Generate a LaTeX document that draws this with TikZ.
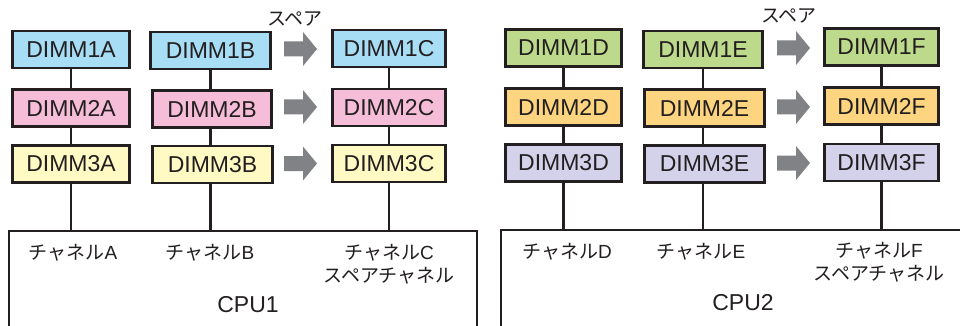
\documentclass[tikz,border=0pt]{standalone}
\usepackage{fontspec}
\setmainfont{Liberation Sans}
\newfontfamily\jpfont{Noto Sans CJK JP}
\definecolor{linec}{HTML}{231F20}
\definecolor{cblue}{HTML}{A8DDF6}
\definecolor{cpink}{HTML}{F6BDD8}
\definecolor{cyellow}{HTML}{FFF9C4}
\definecolor{cgreen}{HTML}{BDDA8C}
\definecolor{corange}{HTML}{FDD580}
\definecolor{clav}{HTML}{D4D2EA}
\definecolor{arrowgray}{HTML}{808285}
\begin{document}
\begin{tikzpicture}[x=1pt,y=-1pt,
  dimm/.style={draw=linec, line width=2.6pt, inner sep=0pt, minimum height=37pt,
    font=\fontsize{23}{27}\selectfont, text=linec},
  cpubox/.style={draw=linec, line width=2.6pt, inner sep=0pt},
  conn/.style={draw=linec, line width=2.8pt},
  chlabel/.style={font=\fontsize{19}{23}\selectfont, text=linec, align=center, inner sep=0pt},
  cpulabel/.style={font=\fontsize{23}{27}\selectfont, text=linec, inner sep=0pt},
  sparelabel/.style={font=\jpfont\fontsize{19}{22}\selectfont, text=linec, inner sep=0pt}]
\useasboundingbox (0,0) rectangle (960,326);
\clip (0,0) rectangle (960,326);
\fill[white] (0,0) rectangle (960,326);

% CPU boxes
\node[cpubox, minimum width=468pt, minimum height=110pt] (cpu1) at (243,286) {};
\node[cpubox, minimum width=479pt, minimum height=110pt] (cpu2) at (740.5,285) {};

% CPU1 DIMMs
\node[dimm, fill=cblue,   minimum width=117pt] (d1a) at (71,49.5) {DIMM1A};
\node[dimm, fill=cpink,   minimum width=117pt] (d2a) at (71,108) {DIMM2A};
\node[dimm, fill=cyellow, minimum width=117pt] (d3a) at (71,164) {DIMM3A};
\node[dimm, fill=cblue,   minimum width=120pt] (d1b) at (210.5,50.5) {DIMM1B};
\node[dimm, fill=cpink,   minimum width=119pt] (d2b) at (212,109) {DIMM2B};
\node[dimm, fill=cyellow, minimum width=120pt] (d3b) at (212.5,164.5) {DIMM3B};
\node[dimm, fill=cblue,   minimum width=113pt] (d1c) at (389,48.5) {DIMM1C};
\node[dimm, fill=cpink,   minimum width=113pt] (d2c) at (389,107.5) {DIMM2C};
\node[dimm, fill=cyellow, minimum width=113pt] (d3c) at (389,163.5) {DIMM3C};

% CPU2 DIMMs
\node[dimm, fill=cgreen,  minimum width=116pt] (d1d) at (563.5,48) {DIMM1D};
\node[dimm, fill=corange, minimum width=116pt] (d2d) at (563.5,107) {DIMM2D};
\node[dimm, fill=clav,    minimum width=116pt] (d3d) at (563.5,163) {DIMM3D};
\node[dimm, fill=cgreen,  minimum width=119pt] (d1e) at (703,49.5) {DIMM1E};
\node[dimm, fill=corange, minimum width=120pt] (d2e) at (704.5,108) {DIMM2E};
\node[dimm, fill=clav,    minimum width=120pt] (d3e) at (704.5,164) {DIMM3E};
\node[dimm, fill=cgreen,  minimum width=114pt] (d1f) at (881.5,47) {DIMM1F};
\node[dimm, fill=corange, minimum width=114pt] (d2f) at (881.5,106) {DIMM2F};
\node[dimm, fill=clav,    minimum width=114pt] (d3f) at (881.5,162.5) {DIMM3F};

% connectors
\foreach \c/\cpu in {a/cpu1,b/cpu1,c/cpu1,d/cpu2,e/cpu2,f/cpu2}{
  \draw[conn] (d1\c.south) -- (d1\c.south |- d2\c.north);
  \draw[conn] (d2\c.south -| d1\c.south) -- (d1\c.south |- d3\c.north);
  \draw[conn] (d3\c.south -| d1\c.south) -- (d1\c.south |- \cpu.north);
}

% spare arrows
\foreach \ax/\ay in {284/49, 284/107, 284/163.5, 777/48, 777/107, 777/163}{
  \fill[arrowgray] (\ax,{\ay-7.5}) -- ({\ax+19},{\ay-7.5}) -- ({\ax+19},{\ay-17}) --
    ({\ax+33},\ay) -- ({\ax+19},{\ay+17}) -- ({\ax+19},{\ay+7.5}) -- (\ax,{\ay+7.5}) -- cycle;
}

% spare labels
\node[sparelabel] (spare1) at (295,19) {スペア};
\node[sparelabel] (spare2) at (789,16) {スペア};

% channel labels
\node[chlabel] (cha) at (73,253) {{\jpfont チャネル}A};
\node[chlabel] (chb) at (210,253) {{\jpfont チャネル}B};
\node[chlabel] (chc) at (389,264.5) {{\jpfont チャネル}C\\{\jpfont スペアチャネル}};
\node[cpulabel] (cpu1l) at (248,305) {CPU1};
\node[chlabel] (chd) at (567,252) {{\jpfont チャネル}D};
\node[chlabel] (che) at (701,252) {{\jpfont チャネル}E};
\node[chlabel] (chf) at (879,262.5) {{\jpfont チャネル}F\\{\jpfont スペアチャネル}};
\node[cpulabel] (cpu2l) at (743,303) {CPU2};
\end{tikzpicture}
\end{document}
